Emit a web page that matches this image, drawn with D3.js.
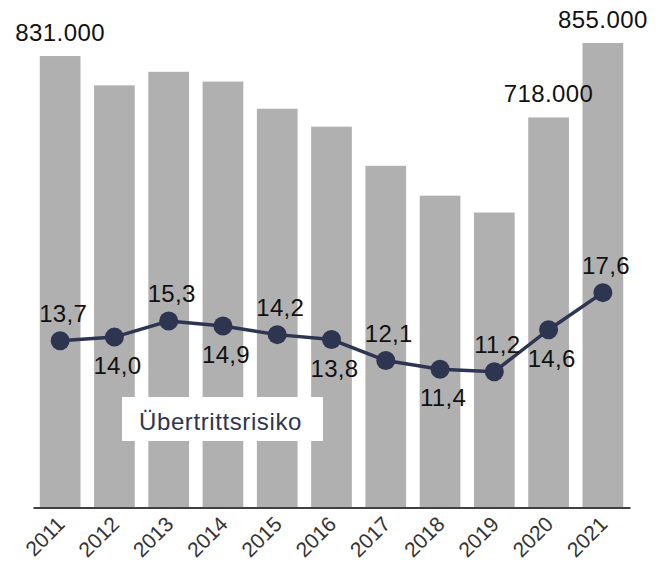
<!DOCTYPE html>
<html>
<head>
<meta charset="utf-8">
<script src="https://cdn.jsdelivr.net/npm/d3@7"></script>
<style>
  body { margin: 0; background: #fff; }
  text { font-family: "Liberation Sans", Arial, sans-serif; }
</style>
</head>
<body>
<div class="chart"></div>
<script>
var years = ["2011", "2012", "2013", "2014", "2015", "2016", "2017", "2018", "2019", "2020", "2021"];
var students = [831000, 777000, 802000, 784000, 734000, 701000, 629000, 574000, 543000, 718000, 855000];
var risk = [13.7, 14.0, 15.3, 14.9, 14.2, 13.8, 12.1, 11.4, 11.2, 14.6, 17.6];
var riskLabelSide = ["above", "below", "above", "below", "above", "below", "above", "below", "above", "below", "above"];
var labelledBars = ["2011", "2020", "2021"];

var svgWidth = 656;
var svgHeight = 567;
var baseline = 507.5;

var svg = d3.select(".chart")
  .append("svg")
  .attr("width", svgWidth)
  .attr("height", svgHeight);

var x = d3.scaleBand()
  .domain(years)
  .range([33, 630])
  .paddingInner(0.25)
  .paddingOuter(0.125);

// bars: 855.000 reaches y=43
var yBar = d3.scaleLinear()
  .domain([0, 855000])
  .range([baseline, 43]);

// line: 0 sits just under the axis
var yLine = d3.scaleLinear()
  .domain([0, 20])
  .range([510, 263]);

var fmtThousands = d3.formatLocale({ decimal: ",", thousands: ".", grouping: [3], currency: ["", "€"] }).format(",.0f");
var fmtRisk = d => d.toFixed(1).replace(".", ",");

// bars
svg.append("g")
  .selectAll("rect")
  .data(years)
  .enter()
  .append("rect")
  .attr("x", d => x(d))
  .attr("y", (d, i) => yBar(students[i]))
  .attr("width", x.bandwidth())
  .attr("height", (d, i) => baseline - yBar(students[i]))
  .attr("fill", "#b0b0b0");

// bar value labels
svg.append("g")
  .selectAll("text")
  .data(labelledBars)
  .enter()
  .append("text")
  .attr("x", d => x(d) + x.bandwidth() / 2)
  .attr("y", d => yBar(students[years.indexOf(d)]) - 15)
  .attr("text-anchor", "middle")
  .attr("font-size", 24)
  .attr("letter-spacing", 0.4)
  .attr("fill", "#111")
  .text(d => fmtThousands(students[years.indexOf(d)]));

// axis line
var xAxis = svg.append("g")
  .attr("transform", `translate(0, ${baseline})`)
  .call(d3.axisBottom(x).tickSize(0).tickPadding(0));
xAxis.select(".domain")
  .attr("stroke", "#404040")
  .attr("stroke-width", 2);
xAxis.selectAll(".tick text")
  .attr("font-size", 21)
  .attr("fill", "#333")
  .attr("text-anchor", "end")
  .attr("dy", 0)
  .attr("y", 0)
  .attr("transform", "translate(6, 18) rotate(-45)");

// legend box
svg.append("rect")
  .attr("x", 122)
  .attr("y", 397)
  .attr("width", 201)
  .attr("height", 44)
  .attr("fill", "#fff");
svg.append("text")
  .attr("x", 139)
  .attr("y", 430)
  .attr("font-size", 24)
  .attr("letter-spacing", 0.6)
  .attr("fill", "#2d3550")
  .text("Übertrittsrisiko");

// risk line
var line = d3.line()
  .x((d, i) => x(years[i]) + x.bandwidth() / 2)
  .y(d => yLine(d));

svg.append("path")
  .datum(risk)
  .attr("d", line)
  .attr("fill", "none")
  .attr("stroke", "#2d3550")
  .attr("stroke-width", 3.5);

svg.append("g")
  .selectAll("circle")
  .data(risk)
  .enter()
  .append("circle")
  .attr("cx", (d, i) => x(years[i]) + x.bandwidth() / 2)
  .attr("cy", d => yLine(d))
  .attr("r", 9.5)
  .attr("fill", "#2d3550");

svg.append("g")
  .selectAll("text")
  .data(risk)
  .enter()
  .append("text")
  .attr("x", (d, i) => x(years[i]) + x.bandwidth() / 2 + 3)
  .attr("y", (d, i) => yLine(d) + (riskLabelSide[i] === "above" ? -19 : 37))
  .attr("text-anchor", "middle")
  .attr("font-size", 24)
  .attr("letter-spacing", 0.3)
  .attr("fill", "#111")
  .text(d => fmtRisk(d));
</script>
</body>
</html>
